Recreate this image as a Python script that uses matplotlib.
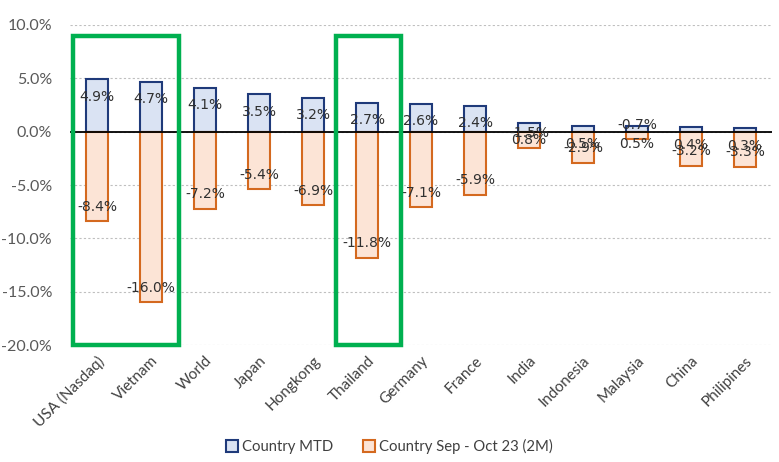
import matplotlib
matplotlib.use("Agg")
import matplotlib.pyplot as plt
from matplotlib.patches import Rectangle
from matplotlib.ticker import FuncFormatter

categories = ["USA (Nasdaq)", "Vietnam", "World", "Japan", "Hongkong", "Thailand",
              "Germany", "France", "India", "Indonesia", "Malaysia", "China", "Philipines"]
mtd = [4.9, 4.7, 4.1, 3.5, 3.2, 2.7, 2.6, 2.4, 0.8, 0.5, 0.5, 0.4, 0.3]
two_m = [-8.4, -16.0, -7.2, -5.4, -6.9, -11.8, -7.1, -5.9, -1.5, -2.9, -0.7, -3.2, -3.3]
highlight_groups = [(0, 1), (5, 5)]

plt.rcParams['font.family'] = ['Lato', 'DejaVu Sans']

fig = plt.figure(figsize=(7.79, 4.62), dpi=100)
ax = fig.add_axes([0.09, 0.253, 0.901, 0.693])

x = list(range(len(categories)))
w = 0.41
blue_fc, blue_ec = "#DAE3F3", "#1F3A7A"
orange_fc, orange_ec = "#FCE4D6", "#D4691F"

ax.bar(x, mtd, width=w, color=blue_fc, edgecolor=blue_ec, linewidth=1.5,
       label="Country MTD", zorder=3)
ax.bar(x, two_m, width=w, color=orange_fc, edgecolor=orange_ec, linewidth=1.5,
       label="Country Sep - Oct 23 (2M)", zorder=3)

for xi, v in zip(x, mtd):
    ax.annotate(f"{v:.1f}%", (xi, v), xytext=(0, -12.5), textcoords="offset points",
                ha="center", va="center", fontsize=10, color="#303030", zorder=5,
                family="DejaVu Sans")
for xi, v in zip(x, two_m):
    ax.annotate(f"{v:.1f}%", (xi, v), xytext=(0, 10.5), textcoords="offset points",
                ha="center", va="center", fontsize=10, color="#303030", zorder=5,
                family="DejaVu Sans")

ax.set_ylim(-20, 10)
ax.set_xlim(-0.5, len(categories) - 0.5)
ax.set_yticks([10, 5, 0, -5, -10, -15, -20])
ax.yaxis.set_major_formatter(FuncFormatter(lambda v, p: f"{v:.1f}%"))
ax.grid(axis="y", color="#BFBFBF", linestyle=(0, (2, 2)), linewidth=0.8, zorder=0)
ax.axhline(0, color="black", linewidth=1.3, zorder=4)
for s in ax.spines.values():
    s.set_visible(False)
ax.tick_params(axis="both", length=0)
ax.tick_params(axis="y", labelsize=11.5, labelcolor="#595959", pad=13)
ax.set_xticks(x)
ax.set_xticklabels(categories, rotation=45, ha="right", rotation_mode="anchor",
                   fontsize=11, color="#404040")
ax.tick_params(axis="x", pad=6)

# highlight boxes
pads = [(0.45, 0.51), (0.57, 0.63)]
for (a, b), (pl, pr) in zip(highlight_groups, pads):
    r = Rectangle((a - pl, -20), (b + pr) - (a - pl), 29.0, fill=False,
                  edgecolor="#00B050", linewidth=3.2, zorder=6, clip_on=False)
    ax.add_patch(r)

leg = fig.legend(loc="center", bbox_to_anchor=(0.5, 0.033), ncol=2, frameon=False,
                 fontsize=10.7, handlelength=0.8, handleheight=0.8, handletextpad=0.3,
                 columnspacing=2.0)
for t in leg.get_texts():
    t.set_color("#404040")

fig.savefig("out.png", dpi=100)
